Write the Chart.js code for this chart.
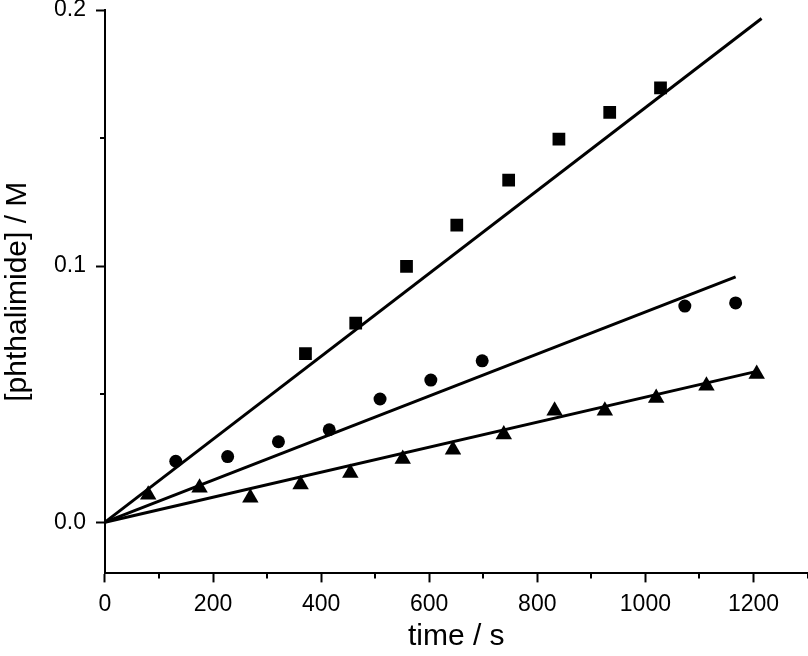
<!DOCTYPE html>
<html>
<head>
<meta charset="utf-8">
<script src="https://cdn.jsdelivr.net/npm/chart.js@4.4.1/dist/chart.umd.min.js"></script>
<style>
  html, body { margin: 0; padding: 0; background: #fff; overflow: hidden; }
  #wrap { width: 808px; height: 656px; overflow: hidden; }
</style>
</head>
<body>
<!-- canvas is a little wider than the window: Chart.js keeps ~10px spare on the right -->
<div id="wrap"><canvas id="kinChart" width="817" height="656"></canvas></div>
<script>
// time / s and [phthalimide] / M
const squareTime = [371, 464, 558, 651, 747, 840, 934, 1028];
const squareConc = [0.0658, 0.0777, 0.0999, 0.1160, 0.1336, 0.1496, 0.1600, 0.1696];

const circleTime = [131, 227, 321, 415, 509, 603, 698, 1073, 1167];
const circleConc = [0.0238, 0.0256, 0.0314, 0.0361, 0.0481, 0.0555, 0.0630, 0.0844, 0.0856];

const triangleTime = [80, 175, 269, 362, 454, 551, 644, 738, 832, 925, 1020, 1113, 1206];
const triangleConc = [0.0107, 0.0134, 0.0095, 0.0147, 0.0192, 0.0247, 0.0283, 0.0342, 0.0435, 0.0435, 0.0485, 0.0533, 0.0579];

// linear fits through the origin: [start, end]
const fitSquareTime = [0, 1215];
const fitSquareConc = [0, 0.1967];
const fitCircleTime = [0, 1167];
const fitCircleConc = [0, 0.0958];
const fitTriangleTime = [0, 1208];
const fitTriangleConc = [0, 0.0590];

const xMajorTicks = [0, 200, 400, 600, 800, 1000, 1200];
const xMinorTicks = [100, 300, 500, 700, 900, 1100, 1300];
const yMajorTicks = [0, 0.1, 0.2];
const yMinorTicks = [0.05, 0.15];

const FONT = 'Arial, "Liberation Sans", Helvetica, sans-serif';

function toPoints(xs, ys) {
    return xs.map((x, i) => ({ x: x, y: ys[i] }));
}

function markerSet(xs, ys, style, radius) {
    return {
        type: 'scatter',
        data: toPoints(xs, ys),
        pointStyle: style,
        pointRadius: radius,
        pointHoverRadius: radius,
        backgroundColor: '#000',
        borderColor: '#000',
        borderWidth: 0,
        showLine: false
    };
}

function fitSet(xs, ys) {
    return {
        type: 'line',
        data: toPoints(xs, ys),
        borderColor: '#000',
        borderWidth: 3,
        pointRadius: 0,
        fill: false,
        tension: 0
    };
}

// minor ticks, Chart.js has none of its own
const minorTicks = {
    id: 'minorTicks',
    afterDraw(chart) {
        const ctx = chart.ctx;
        const xs = chart.scales.x;
        const ys = chart.scales.y;
        ctx.save();
        ctx.strokeStyle = '#000';
        ctx.lineWidth = 2;
        xMinorTicks.forEach(v => {
            const px = Math.round(xs.getPixelForValue(v));
            ctx.beginPath();
            ctx.moveTo(px, ys.bottom);
            ctx.lineTo(px, ys.bottom + 5);
            ctx.stroke();
        });
        yMinorTicks.forEach(v => {
            const py = Math.round(ys.getPixelForValue(v));
            ctx.beginPath();
            ctx.moveTo(xs.left, py);
            ctx.lineTo(xs.left - 5, py);
            ctx.stroke();
        });
        ctx.restore();
    }
};

const ctx = document.getElementById('kinChart').getContext('2d');
new Chart(ctx, {
    type: 'scatter',
    data: {
        datasets: [
            fitSet(fitSquareTime, fitSquareConc),
            fitSet(fitCircleTime, fitCircleConc),
            fitSet(fitTriangleTime, fitTriangleConc),
            markerSet(squareTime, squareConc, 'rect', 9),
            markerSet(circleTime, circleConc, 'circle', 6.5),
            markerSet(triangleTime, triangleConc, 'triangle', 9.5)
        ]
    },
    options: {
        responsive: false,
        animation: false,
        layout: {
            padding: { left: 0, right: 0, top: 0, bottom: 0 }
        },
        plugins: {
            legend: { display: false },
            tooltip: { enabled: false }
        },
        scales: {
            x: {
                type: 'linear',
                min: 0,
                max: 1300,
                afterBuildTicks: function(scale) {
                    scale.ticks = xMajorTicks.map(v => ({ value: v }));
                },
                border: { display: true, color: '#000', width: 2 },
                grid: {
                    drawOnChartArea: false,
                    drawTicks: true,
                    tickLength: 9,
                    tickWidth: 2,
                    tickColor: '#000'
                },
                ticks: {
                    color: '#000',
                    padding: 8,
                    maxRotation: 0,
                    font: { family: FONT, size: 23 },
                    callback: function(value) {
                        return String(value);
                    }
                },
                title: {
                    display: true,
                    text: 'time / s',
                    color: '#000',
                    font: { family: FONT, size: 30 },
                    padding: { top: -7, bottom: 1 }
                }
            },
            y: {
                type: 'linear',
                min: -0.02,
                max: 0.2,
                afterBuildTicks: function(scale) {
                    scale.ticks = yMajorTicks.map(v => ({ value: v }));
                },
                afterFit: function(scale) {
                    scale.paddingTop = 10;
                    scale.paddingBottom = 0;
                },
                border: { display: true, color: '#000', width: 2 },
                grid: {
                    drawOnChartArea: false,
                    drawTicks: true,
                    tickLength: 9,
                    tickWidth: 2,
                    tickColor: '#000'
                },
                ticks: {
                    color: '#000',
                    padding: 10,
                    font: { family: FONT, size: 23 },
                    callback: function(value) {
                        return value.toFixed(1);
                    }
                },
                title: {
                    display: true,
                    text: '[phthalimide] / M',
                    color: '#000',
                    font: { family: FONT, size: 30 },
                    padding: { top: 0, bottom: 8 }
                }
            }
        }
    },
    plugins: [minorTicks]
});
</script>
</body>
</html>
